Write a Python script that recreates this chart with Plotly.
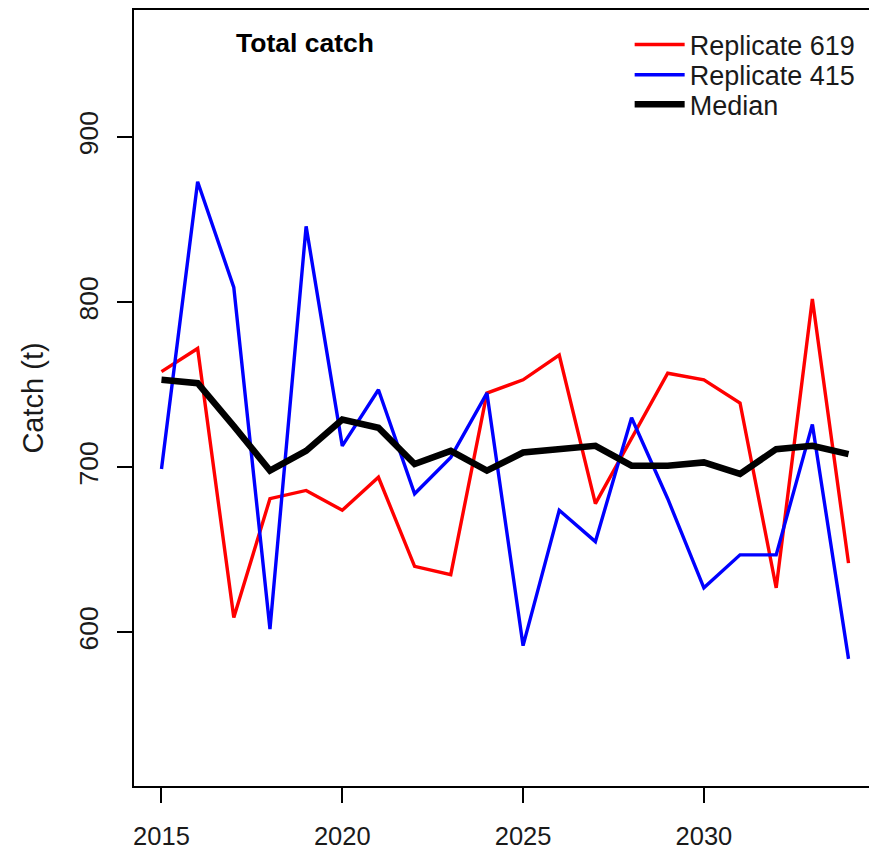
import plotly.graph_objects as go

years = list(range(2015, 2035))
replicate_619 = [758, 772, 609, 681, 686, 674, 694, 640, 635, 745,
                 753, 768, 678, 718, 757, 753, 739, 627, 802, 642]
replicate_415 = [699, 873, 809, 602, 846, 713, 747, 684, 706, 745,
                 592, 674, 655, 730, 681, 627, 647, 647, 726, 584]
median_catch = [753, 751, 725, 698, 710, 729, 724, 702, 710, 698,
                709, 711, 713, 701, 701, 703, 696, 711, 713, 708]

FONT = "Liberation Sans, Arial, sans-serif"
TXT = "#1a1a1a"

fig = go.Figure()
fig.add_trace(go.Scatter(x=years, y=replicate_619, mode="lines", name="Replicate 619",
                         line=dict(color="#ff0000", width=3.4), legend="legend"))
fig.add_trace(go.Scatter(x=years, y=replicate_415, mode="lines", name="Replicate 415",
                         line=dict(color="#0000ff", width=3.4), legend="legend2"))
fig.add_trace(go.Scatter(x=years, y=median_catch, mode="lines", name="Median",
                         line=dict(color="#000000", width=6.5), legend="legend3"))

def leg(y):
    return dict(x=0.668, y=y, xanchor="left", yanchor="middle",
                bgcolor="rgba(0,0,0,0)", font=dict(family=FONT, size=27, color=TXT),
                itemwidth=50)

fig.update_layout(
    width=877, height=850,
    margin=dict(l=126, r=9, t=2, b=72),
    paper_bgcolor="white", plot_bgcolor="white",
    font=dict(family=FONT, size=25, color=TXT),
    title=dict(text="<b>Total catch</b>", x=228/877, xref="container", xanchor="left",
               y=1-34.5/850, yref="container", yanchor="middle",
               font=dict(family=FONT, size=26.5, color="black")),
    showlegend=True,
    legend=leg(0.955), legend2=leg(0.916), legend3=leg(0.878),
    xaxis=dict(range=[2014.24, 2034.76], tickvals=[2015, 2020, 2025, 2030],
               tickfont=dict(size=25.5),
               showgrid=False, zeroline=False, showline=True, linecolor="black",
               linewidth=1.5, mirror=True, ticks="outside", ticklen=15, tickwidth=1.5,
               tickcolor="black", ticklabelstandoff=12, automargin=False),
    yaxis=dict(range=[507, 977], tickvals=[600, 700, 800, 900], tickangle=-90,
               tickfont=dict(size=26.5),
               showgrid=False, zeroline=False, showline=True, linecolor="black",
               linewidth=1.5, mirror=True, ticks="outside", ticklen=15, tickwidth=1.5,
               tickcolor="black", ticklabelstandoff=9, automargin=False,
               title=dict(text="Catch (t)", standoff=22,
                          font=dict(family=FONT, size=29, color=TXT))),
)

fig.write_html("out.html")
